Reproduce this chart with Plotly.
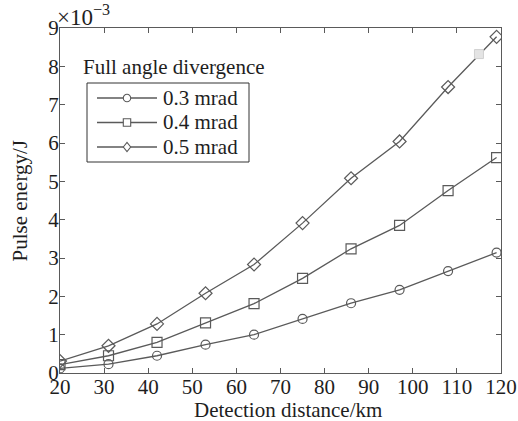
import plotly.graph_objects as go

# Detection distance (km) and required pulse energy (×10^-3 J)
distance_km = [20, 31, 42, 53, 64, 75, 86, 97, 108, 119]
energy_03mrad = [0.12, 0.23, 0.45, 0.74, 1.00, 1.41, 1.82, 2.17, 2.66, 3.14]
energy_04mrad = [0.22, 0.45, 0.80, 1.31, 1.81, 2.47, 3.24, 3.85, 4.76, 5.62]
energy_05mrad = [0.31, 0.71, 1.28, 2.08, 2.83, 3.91, 5.08, 6.04, 7.46, 8.77]
series_names = ["0.3 mrad", "0.4 mrad", "0.5 mrad"]
series_symbols = ["circle-open", "square-open", "diamond-open"]
series_sizes = [9, 10, 10]

x_ticks = [20, 30, 40, 50, 60, 70, 80, 90, 100, 110, 120]
y_ticks = [0, 1, 2, 3, 4, 5, 6, 7, 8, 9]

# faint stray marker near the upper right
stray_x = [115]
stray_y = [8.32]

line_col = "#5a5a5a"
text_col = "#1e1e1e"
font_family = "Liberation Serif, Times New Roman, serif"

# plot area in pixels (used to place the hand-drawn legend)
W, H = 518, 421
M_L, M_R, M_T, M_B = 60, 17, 28, 48
PW, PH = W - M_L - M_R, H - M_T - M_B


def px_x(px):
    return (px - M_L) / PW


def px_y(py):
    return (H - M_B - py) / PH


fig = go.Figure()
for name, ys, sym, sz in zip(series_names,
                             [energy_03mrad, energy_04mrad, energy_05mrad],
                             series_symbols, series_sizes):
    fig.add_trace(go.Scatter(
        x=distance_km, y=ys, name=name, mode="lines+markers", showlegend=False,
        line=dict(color=line_col, width=1.3),
        marker=dict(symbol=sym, size=sz, color=line_col,
                    line=dict(color=line_col, width=1.2)),
    ))

fig.add_trace(go.Scatter(
    x=stray_x, y=stray_y, mode="markers", showlegend=False, hoverinfo="skip",
    marker=dict(symbol="square", size=9, color="#e4e4e4",
                line=dict(color="#d0d0d0", width=1)),
))

axis_common = dict(
    showline=True, linecolor=line_col, linewidth=1, mirror="allticks",
    ticks="inside", ticklen=5, tickcolor=line_col, tickwidth=1,
    showgrid=False, zeroline=False, automargin=False,
    tickfont=dict(family=font_family, size=21, color=text_col),
)
fig.update_xaxes(range=[20, 120], tickvals=x_ticks, ticklabelstandoff=-5,
                 **axis_common)
fig.update_yaxes(range=[0, 9], tickvals=y_ticks, ticklabelstandoff=-4,
                 **axis_common)

title_font = dict(family=font_family, size=21, color=text_col)
fig.add_annotation(
    text="Detection distance/km", xref="paper", yref="paper",
    x=px_x(288), y=px_y(410), xanchor="center", yanchor="middle",
    showarrow=False, font=title_font,
)
fig.add_annotation(
    text="Pulse energy/J", xref="paper", yref="paper", textangle=-90,
    x=px_x(19), y=0.5, xanchor="center", yanchor="middle",
    showarrow=False, font=title_font,
)
fig.add_annotation(
    text="×10<sup>−3</sup>",
    xref="paper", yref="paper",
    x=px_x(55), y=px_y(16), xanchor="left", yanchor="middle",
    showarrow=False, font=dict(family=font_family, size=23, color=text_col),
)
fig.add_annotation(
    text="Full angle divergence", xref="paper", yref="paper",
    x=px_x(81), y=px_y(67), xanchor="left", yanchor="middle",
    showarrow=False, font=title_font,
)

# legend box with line/marker samples
shapes = [dict(type="rect", xref="paper", yref="paper",
               x0=px_x(87), x1=px_x(249), y0=px_y(162), y1=px_y(83),
               line=dict(color="#333333", width=1), fillcolor="white",
               layer="above")]
row_y = [98, 122.5, 147]
mk_x = px_x(127)
for name, sym, ry in zip(series_names, series_symbols, row_y):
    yy = px_y(ry)
    shapes.append(dict(type="line", xref="paper", yref="paper",
                       x0=px_x(97), x1=px_x(157), y0=yy, y1=yy,
                       line=dict(color=line_col, width=1.3), layer="above"))
    mk = dict(xref="paper", yref="paper", xsizemode="pixel", ysizemode="pixel",
              xanchor=mk_x, yanchor=yy, line=dict(color=line_col, width=1.1),
              fillcolor="white", layer="above")
    if sym.startswith("circle"):
        mk.update(type="circle", x0=-3.7, x1=3.7, y0=-3.7, y1=3.7)
    elif sym.startswith("square"):
        mk.update(type="rect", x0=-3.7, x1=3.7, y0=-3.7, y1=3.7)
    else:
        mk.update(type="path", path="M -3.7 0 L 0 4.6 L 3.7 0 L 0 -4.6 Z")
    shapes.append(mk)
    fig.add_annotation(
        text=name, xref="paper", yref="paper",
        x=px_x(161), y=yy, xanchor="left", yanchor="middle",
        showarrow=False, font=title_font,
    )

fig.update_layout(
    width=W, height=H,
    margin=dict(l=M_L, r=M_R, t=M_T, b=M_B),
    paper_bgcolor="white", plot_bgcolor="white",
    font=dict(family=font_family, color=text_col),
    showlegend=False,
    shapes=shapes,
)

fig.write_html("out.html")
